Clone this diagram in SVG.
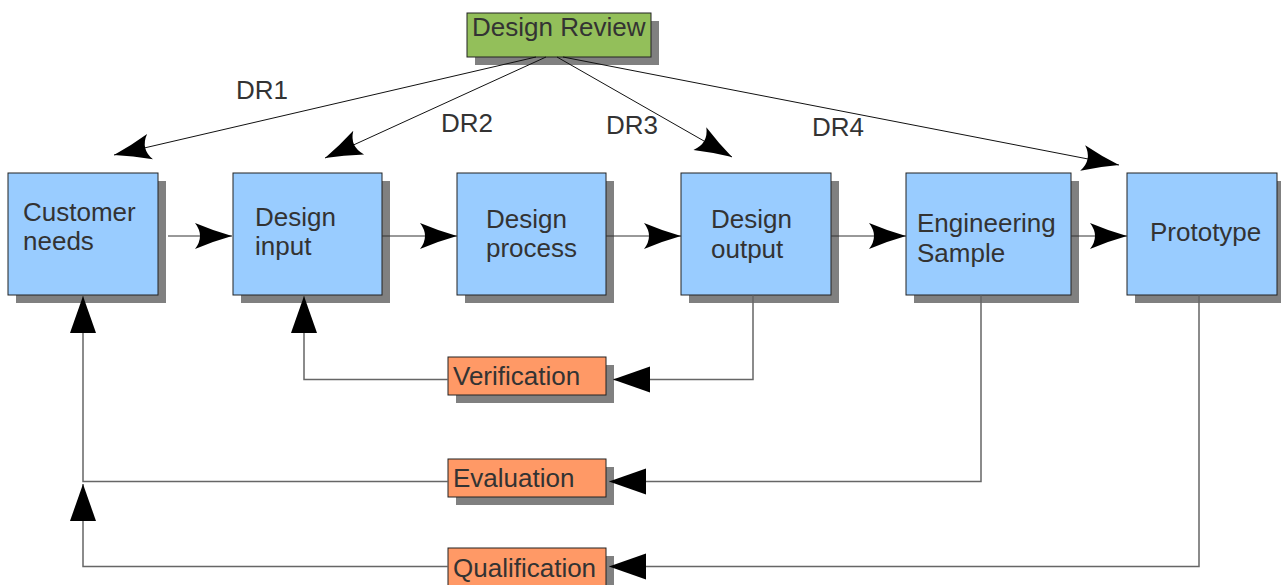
<svg xmlns="http://www.w3.org/2000/svg" width="1281" height="585" viewBox="0 0 1281 585">
  <style>
    text { font-family: "Liberation Sans", Arial, sans-serif; font-size: 26px; fill: #333333; }
    .shadow { fill: #808080; }
    .box { fill: #99ccff; stroke: #222222; stroke-width: 1; }
    .review { fill: #93bf5a; stroke: #222222; stroke-width: 1; }
    .check { fill: #ff9966; stroke: #222222; stroke-width: 1; }
    .flow { fill: none; stroke: #333333; stroke-width: 1; }
    .dr { fill: none; stroke: #111111; stroke-width: 1; }
    .back { fill: none; stroke: #666666; stroke-width: 1.5; }
  </style>
  <defs>
    <!-- concave arrowhead, tip at the path end -->
    <marker id="concave" markerUnits="userSpaceOnUse" viewBox="-40 -16 42 32" refX="0" refY="0" markerWidth="42" markerHeight="32" orient="auto" overflow="visible">
      <path d="M0,0 Q-18,-5 -37,-13 Q-27,0 -37,13 Q-18,5 0,0 Z" fill="#000"/>
    </marker>
    <!-- plain triangular arrowhead -->
    <marker id="tri" markerUnits="userSpaceOnUse" viewBox="-40 -16 42 32" refX="0" refY="0" markerWidth="42" markerHeight="32" orient="auto" overflow="visible">
      <path d="M0,0 L-37,-13 L-37,13 Z" fill="#000"/>
    </marker>
  </defs>

  <g id="labels">
    <text x="236" y="99">DR1</text>
    <text x="441" y="132">DR2</text>
    <text x="606" y="134">DR3</text>
    <text x="812" y="136">DR4</text>
  </g>

  <g id="design-review">
    <rect class="shadow" x="475" y="21" width="184" height="44"/>
    <rect class="review" x="467" y="13" width="184" height="44"/>
    <text x="472" y="36">Design Review</text>
  </g>

  <g id="customer-needs">
    <rect class="shadow" x="16" y="181" width="150" height="122"/>
    <rect class="box" x="8" y="173" width="150" height="122"/>
    <text x="23" y="221">Customer</text>
    <text x="23" y="250">needs</text>
  </g>

  <g id="design-input">
    <rect class="shadow" x="241" y="181" width="149" height="122"/>
    <rect class="box" x="233" y="173" width="149" height="122"/>
    <text x="255" y="226">Design</text>
    <text x="255" y="255">input</text>
  </g>

  <g id="design-process">
    <rect class="shadow" x="465" y="181" width="149" height="122"/>
    <rect class="box" x="457" y="173" width="149" height="122"/>
    <text x="486" y="228">Design</text>
    <text x="486" y="257">process</text>
  </g>

  <g id="design-output">
    <rect class="shadow" x="689" y="181" width="150" height="122"/>
    <rect class="box" x="681" y="173" width="150" height="122"/>
    <text x="711" y="228">Design</text>
    <text x="711" y="258">output</text>
  </g>

  <g id="engineering-sample">
    <rect class="shadow" x="914" y="181" width="165" height="122"/>
    <rect class="box" x="906" y="173" width="165" height="122"/>
    <text x="917" y="232">Engineering</text>
    <text x="917" y="262">Sample</text>
  </g>

  <g id="prototype">
    <rect class="shadow" x="1135" y="181" width="150" height="122"/>
    <rect class="box" x="1127" y="173" width="150" height="122"/>
    <text x="1150" y="241">Prototype</text>
  </g>

  <g id="verification">
    <rect class="shadow" x="456" y="365" width="158" height="38"/>
    <rect class="check" x="448" y="357" width="158" height="38"/>
    <text x="453" y="385">Verification</text>
  </g>

  <g id="evaluation">
    <rect class="shadow" x="456" y="467" width="158" height="38"/>
    <rect class="check" x="448" y="459" width="158" height="38"/>
    <text x="453" y="487">Evaluation</text>
  </g>

  <g id="qualification">
    <rect class="shadow" x="456" y="556" width="158" height="38"/>
    <rect class="check" x="448" y="548" width="158" height="38"/>
    <text x="453" y="577">Qualification</text>
  </g>

  <!-- connectors sit above the drop shadows -->
  <g id="connectors">
    <!-- design review links -->
    <path class="dr" d="M536,57 L114,155" marker-end="url(#concave)"/>
    <path class="dr" d="M546,57 L325,158" marker-end="url(#concave)"/>
    <path class="dr" d="M557,57 L732,157" marker-end="url(#concave)"/>
    <path class="dr" d="M563,57 L1119,165" marker-end="url(#concave)"/>
    <!-- main flow -->
    <path class="flow" d="M168,236 H232" marker-end="url(#concave)"/>
    <path class="flow" d="M382,236 H457" marker-end="url(#concave)"/>
    <path class="flow" d="M606,236 H681" marker-end="url(#concave)"/>
    <path class="flow" d="M831,236 H906" marker-end="url(#concave)"/>
    <path class="flow" d="M1071,236 H1127" marker-end="url(#concave)"/>
    <!-- feedback loops -->
    <path class="back" d="M753,295.5 V379.5 H613" marker-end="url(#tri)"/>
    <path class="back" d="M448,379.5 H304 V296" marker-end="url(#tri)"/>
    <path class="back" d="M981,295.5 V481.5 H609" marker-end="url(#tri)"/>
    <path class="back" d="M1199,295.5 V566.5 H609" marker-end="url(#tri)"/>
    <path class="back" d="M448,481.5 H83 V296" marker-end="url(#tri)"/>
    <path class="back" d="M448,566.5 H83 V484" marker-end="url(#tri)"/>
  </g>
</svg>
